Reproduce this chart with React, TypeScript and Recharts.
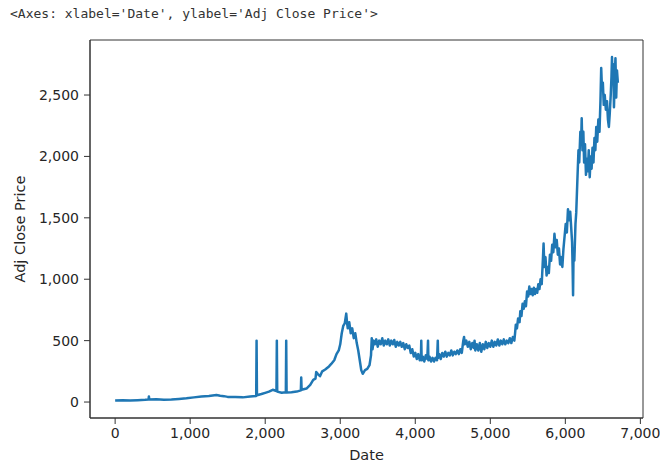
import { Line, LineChart, ReferenceArea, XAxis, YAxis } from 'recharts';

// Trading-day index (x) and adjusted close (y).
const dayIndex = [
  0, 100, 200, 300, 400, 445, 450, 455, 550, 650, 750, 850, 950, 1050, 1150, 1250, 1350, 1400, 1450, 1500,
  1600, 1700, 1800, 1880, 1885, 1890, 1950, 2000, 2050, 2100, 2150, 2155, 2160, 2220, 2275, 2280, 2285,
  2350, 2420, 2475, 2480, 2485, 2550, 2600, 2640, 2670, 2680, 2700, 2730, 2760, 2800, 2850, 2880, 2920,
  2950, 2980, 3000, 3020, 3040, 3060, 3080, 3090, 3100, 3120, 3140, 3160, 3180, 3200, 3220, 3240, 3260,
  3280, 3300, 3330, 3360, 3390, 3410, 3420, 3430, 3445, 3460, 3480, 3500, 3520, 3540, 3560, 3580, 3600,
  3620, 3640, 3660, 3680, 3700, 3720, 3740, 3760, 3780, 3800, 3820, 3840, 3860, 3880, 3900, 3920, 3940,
  3960, 3980, 4000, 4020, 4040, 4060, 4075, 4080, 4085, 4100, 4120, 4140, 4160, 4170, 4175, 4190, 4210,
  4230, 4250, 4270, 4290, 4300, 4305, 4320, 4340, 4360, 4380, 4400, 4420, 4440, 4460, 4480, 4500, 4520,
  4540, 4560, 4580, 4600, 4620, 4640, 4650, 4660, 4680, 4700, 4720, 4740, 4760, 4780, 4790, 4800, 4820,
  4840, 4860, 4880, 4900, 4920, 4940, 4960, 4980, 5000, 5020, 5040, 5060, 5080, 5100, 5120, 5140, 5160,
  5180, 5200, 5220, 5240, 5260, 5280, 5300, 5320, 5330, 5340, 5355, 5370, 5390, 5400, 5415, 5430, 5445,
  5460, 5475, 5490, 5505, 5520, 5535, 5550, 5565, 5580, 5595, 5610, 5625, 5640, 5655, 5670, 5685, 5700,
  5710, 5720, 5735, 5750, 5765, 5780, 5795, 5810, 5825, 5840, 5855, 5870, 5885, 5900, 5915, 5930, 5945,
  5960, 5975, 5990, 6005, 6020, 6035, 6050, 6065, 6080, 6090, 6097, 6103, 6110, 6120, 6135, 6145, 6160,
  6175, 6185, 6200, 6210, 6218, 6228, 6240, 6250, 6262, 6275, 6287, 6300, 6312, 6325, 6338, 6350, 6362,
  6375, 6388, 6400, 6412, 6425, 6440, 6455, 6468, 6478, 6488, 6500, 6512, 6525, 6540, 6555, 6568, 6580,
  6592, 6605, 6615, 6622, 6630, 6640, 6648, 6658, 6668, 6678, 6688, 6700,
];

const adjClose = [
  12, 14, 12, 15, 18, 20, 45, 20, 22, 18, 20, 25, 30, 38, 45, 50, 58, 52, 48, 42,
  40, 38, 45, 50, 500, 55, 65, 75, 85, 100, 90, 500, 85, 75, 80, 500, 78,
  80, 85, 95, 200, 100, 110, 140, 180, 190, 245, 230, 210, 250, 265, 290, 310, 340,
  390, 420, 470, 560, 620, 640, 720, 650, 600, 650, 560, 600, 520, 560, 480, 420, 340,
  260, 230, 260, 270, 300, 380, 520, 430, 500, 470, 510, 450, 500, 470, 520, 460, 500,
  470, 510, 460, 500, 470, 505, 450, 490, 460, 490, 450, 480, 430, 470, 440, 460, 400,
  430, 370, 400, 350, 390, 340, 360, 500, 340, 370, 330, 380, 350, 500, 340, 370, 330,
  360, 330, 360, 340, 500, 360, 390, 350, 400, 370, 410, 370, 400, 380, 420, 380, 410,
  390, 420, 390, 430, 400, 500, 530, 470, 500, 450, 490, 430, 480, 440, 500, 420, 470,
  420, 480, 410, 470, 430, 490, 440, 480, 450, 500, 450, 490, 460, 510, 460, 500, 470,
  510, 470, 500, 480, 520, 480, 530, 500, 560, 630, 600, 680, 650, 740, 700, 800, 760,
  820, 780, 900, 860, 940, 880, 920, 870, 930, 880, 920, 890, 960, 920, 1000, 960, 1150,
  1290, 1100, 1180, 1030, 1100, 1050, 1200, 1150, 1280, 1220, 1370, 1260, 1320, 1200, 1250, 1120, 1180,
  1100, 1250, 1350, 1450, 1380, 1570, 1480, 1550, 1400, 1300, 1100, 870, 1250, 1150, 1450, 1540, 1800,
  2050, 1950, 2200, 2100, 2310, 2050, 2200, 1950, 2100, 1850, 1980, 1880, 2050, 1830, 2000, 1900, 2070,
  1950, 2150, 2050, 2240, 2120, 2300, 2200, 2450, 2720, 2550, 2600, 2420, 2500, 2380, 2450, 2300, 2240,
  2350, 2500, 2650, 2810, 2600, 2750, 2400, 2650, 2800, 2480, 2700, 2600,
];

const xTicks = [0, 1000, 2000, 3000, 4000, 5000, 6000, 7000];
const yTicks = [0, 500, 1000, 1500, 2000, 2500];

const X_DOMAIN: [number, number] = [-335, 7035];
const Y_DOMAIN: [number, number] = [-130, 2948];

const data = dayIndex.map((day, i) => ({ day, close: adjClose[i] }));

const fmt = (v: number) => v.toLocaleString('en-US');
const ink = '#333';
const tickStyle = { fill: '#262626', fontSize: 14, fontFamily: 'DejaVu Sans' };

export default function App() {
  return (
    <div style={{ position: 'absolute', left: 0, top: 0, width: 660, height: 464, background: '#fff' }}>
      <div
        style={{
          position: 'absolute',
          left: 10,
          top: 6,
          fontFamily: '"DejaVu Sans Mono", monospace',
          fontSize: 13,
          color: '#333',
          whiteSpace: 'pre',
        }}
      >
        {"<Axes: xlabel='Date', ylabel='Adj Close Price'>"}
      </div>
      <div style={{ position: 'absolute', left: 0, top: 0 }}>
        <LineChart width={660} height={464} data={data} margin={{ top: 40, right: 17, bottom: 0, left: 0 }}>
          <ReferenceArea
            x1={X_DOMAIN[0]}
            x2={X_DOMAIN[1]}
            y1={Y_DOMAIN[0]}
            y2={Y_DOMAIN[1]}
            fill="none"
            stroke={ink}
            strokeWidth={1}
            ifOverflow="visible"
          />
          <XAxis
            dataKey="day"
            type="number"
            domain={X_DOMAIN}
            ticks={xTicks}
            tickFormatter={fmt}
            allowDataOverflow
            height={46}
            axisLine={{ stroke: ink }}
            tickLine={{ stroke: ink }}
            tickSize={6}
            tickMargin={4}
            tick={tickStyle}
            label={{ value: 'Date', position: 'insideBottom', offset: 4, style: { ...tickStyle, fontSize: 14.5 } }}
          />
          <YAxis
            type="number"
            domain={Y_DOMAIN}
            ticks={yTicks}
            tickFormatter={fmt}
            allowDataOverflow
            width={90}
            axisLine={{ stroke: ink }}
            tickLine={{ stroke: ink }}
            tickSize={6}
            tickMargin={5}
            tick={tickStyle}
            label={{
              value: 'Adj Close Price',
              angle: -90,
              position: 'insideLeft',
              offset: 20,
              style: { ...tickStyle, fontSize: 14.5, textAnchor: 'middle' },
            }}
          />
          <Line
            type="linear"
            dataKey="close"
            stroke="#1f77b4"
            strokeWidth={2.5}
            strokeLinejoin="round"
            dot={false}
            isAnimationActive={false}
          />
        </LineChart>
      </div>
    </div>
  );
}
